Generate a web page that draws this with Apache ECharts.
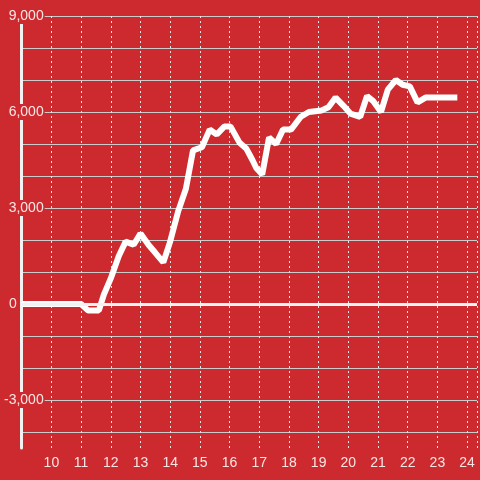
<!DOCTYPE html>
<html>
<head>
<meta charset="utf-8">
<script src="https://cdn.jsdelivr.net/npm/echarts@6/dist/echarts.min.js"></script>
<style>
  html, body { margin: 0; padding: 0; background: #cc2a2e; }
  #chart { width: 480px; height: 480px; }
</style>
</head>
<body>
<div id="chart"></div>
<script>
// hour of day (decimal) and value
const hours = [9, 11, 11.23, 11.6, 11.77, 12.0, 12.27, 12.5, 12.77, 13.0, 13.27, 13.5, 13.77,
  14.0, 14.27, 14.53, 14.77, 15.07, 15.33, 15.57, 15.83, 16.03, 16.33, 16.57, 16.77, 16.9,
  17.1, 17.33, 17.57, 17.8, 18.07, 18.4, 18.67, 19.1, 19.33, 19.57, 19.83, 20.07, 20.4,
  20.63, 20.83, 21.1, 21.33, 21.6, 21.83, 22.07, 22.33, 22.6, 23.67]
const values = [0, 0, -200, -200, 300, 800, 1500, 1950, 1850, 2200, 1850, 1600, 1300,
  1950, 2900, 3600, 4800, 4900, 5450, 5300, 5550, 5550, 5050, 4850, 4500, 4250,
  4050, 5200, 5000, 5450, 5450, 5850, 6000, 6050, 6150, 6450, 6200, 5950, 5850,
  6500, 6350, 6000, 6700, 7000, 6850, 6800, 6300, 6450, 6450]
const yGridValues = [-4000, -3000, -2000, -1000, 0, 1000, 2000, 3000, 4000, 5000, 6000, 7000, 8000, 9000]
const yLabelValues = [-3000, 0, 3000, 6000, 9000]

const bg = '#cc2a2e'
const chart = echarts.init(document.getElementById('chart'))

const option = {
  backgroundColor: bg,
  animation: false,
  grid: { left: 20, right: 0, top: 16, bottom: 32, containLabel: false },
  xAxis: {
    type: 'value',
    min: 9,
    max: 24 + 1 / 3,
    interval: 1,
    axisLine: { show: false },
    axisTick: { show: false },
    axisLabel: {
      color: 'rgba(255,255,255,0.88)',
      fontSize: 14,
      fontFamily: 'Liberation Sans',
      margin: 8,
      formatter: v => (v === 9 || v % 1 !== 0 ? '' : String(v))
    },
    splitLine: {
      show: true,
      lineStyle: { color: '#e6e6e6', width: 1, type: [2, 3] }
    }
  },
  yAxis: {
    type: 'value',
    min: -4500,
    max: 9000,
    axisLine: { show: true, onZero: false, lineStyle: { color: '#f2f2f2', width: 3 } },
    axisTick: { show: false, customValues: yGridValues },
    axisLabel: {
      customValues: yLabelValues,
      color: 'rgba(255,255,255,0.88)',
      fontSize: 14,
      fontFamily: 'Liberation Sans',
      margin: -23,
      formatter: v => (v === 0 ? '{z|0}' : '{a|' + v.toLocaleString('en-US') + '}'),
      rich: {
        a: { backgroundColor: bg, padding: [1, 1], fontSize: 14, color: 'rgba(255,255,255,0.88)' },
        z: { padding: [0, 28, 0, 0], fontSize: 14, color: 'rgba(255,255,255,0.88)' }
      }
    },
    splitLine: { show: true, lineStyle: { color: '#cccccc', width: 1 } }
  },
  series: [
    {
      type: 'line',
      data: hours.map((h, i) => [h, values[i]]),
      showSymbol: false,
      lineStyle: { color: '#ffffff', width: 6 },
      markLine: {
        silent: true,
        symbol: 'none',
        label: { show: false },
        lineStyle: { color: '#f2f2f2', width: 3, type: 'solid' },
        data: [{ yAxis: 0 }]
      },
      z: 3
    }
  ]
}

chart.setOption(option)
</script>
</body>
</html>
